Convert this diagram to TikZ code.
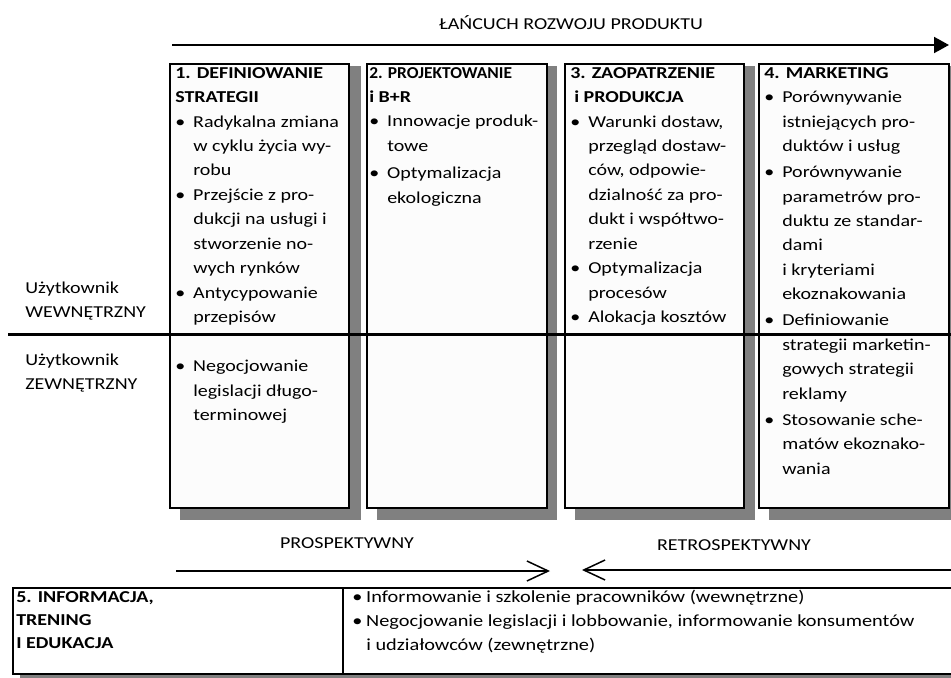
\documentclass[tikz,border=0pt]{standalone}
\usepackage{graphicx}
\usepackage{fontspec}
\setmainfont{Carlito}[FakeStretch=1.2]
\usetikzlibrary{arrows.meta}
\newlength\px
\setlength\px{0.75pt}
\definecolor{shadowgray}{RGB}{128,128,128}
\definecolor{paper}{RGB}{252,252,252}
% bullet with hanging indent, and the indent for continued lines
\newcommand\bul{\makebox[18\px][l]{•}}
\newcommand\cont{\hspace*{18\px}}
\newcommand\bodyfont{\fontsize{12.5}{18.375}\selectfont}
\tikzset{
  stagebox/.style={draw=black, line width=1.5\px, fill=paper},
  shadowbox/.style={fill=shadowgray, draw=none},
  body/.style={inner sep=0pt, anchor=base west, font=\bodyfont},
  label/.style={inner sep=0pt, anchor=base, font=\bodyfont},
  sidelabel/.style={inner sep=0pt, anchor=base west, font=\bodyfont, align=left},
  chain/.style={line width=2\px, -{Triangle[length=11.25pt,width=12pt]}},
  flow/.style={line width=1.5\px, -{Straight Barb[length=16pt,width=15pt]}},
  divider/.style={line width=3\px},
}
\begin{document}
\begin{tikzpicture}[x=0.75pt,y=-0.75pt]
\useasboundingbox (0,0) rectangle (951,678);

% chain header
\node[label] (title) at (571,30) {ŁAŃCUCH ROZWOJU PRODUKTU};
\coordinate (chainL) at (172,45);
\coordinate (chainR) at (949,45);
\draw[chain] (chainL) -- (chainR);

% shadows of the four stages
\fill[shadowbox] (180,66) rectangle (361,520);
\fill[shadowbox] (377,66) rectangle (557,520);
\fill[shadowbox] (575,66) rectangle (755,520);
\fill[shadowbox] (769,66) rectangle (960,520);

% the four stages
\draw[stagebox] (170,64) rectangle (349,508);
\draw[stagebox] (367,64) rectangle (547,508);
\draw[stagebox] (565,64) rectangle (744,508);
\draw[stagebox] (759,64) rectangle (949,508);

\node[body] (stage1) at (175,78) {\begin{minipage}[t]{200\px}\bodyfont\raggedright
\textbf{1. DEFINIOWANIE}\\
\textbf{STRATEGII}\\
\bul Radykalna zmiana\\
\cont w cyklu życia wy-\\
\cont robu\\
\bul Przejście z pro-\\
\cont dukcji na usługi i\\
\cont stworzenie no-\\
\cont wych rynków\\
\bul Antycypowanie\\
\cont przepisów\\[24.5\px]
\bul Negocjowanie\\
\cont legislacji długo-\\
\cont terminowej
\end{minipage}};

\node[body] (stage2) at (369,78) {\begin{minipage}[t]{200\px}\bodyfont\raggedright
\scalebox{0.87}[1]{\textbf{2. PROJEKTOWANIE}}\\
\textbf{i B+R}\\
\bul Innowacje produk-\\
\cont towe\\[3\px]
\bul Optymalizacja\\
\cont ekologiczna
\end{minipage}};

\node[body] (stage3) at (570,78) {\begin{minipage}[t]{200\px}\bodyfont\raggedright
\textbf{3. ZAOPATRZENIE}\\
\hspace*{4\px}\textbf{i PRODUKCJA}\\
\bul Warunki dostaw,\\
\cont przegląd dostaw-\\
\cont ców, odpowie-\\
\cont dzialność za pro-\\
\cont dukt i współtwo-\\
\cont rzenie\\
\bul Optymalizacja\\
\cont procesów\\
\bul Alokacja kosztów
\end{minipage}};

\node[body] (stage4) at (764,78) {\begin{minipage}[t]{200\px}\bodyfont\raggedright
\textbf{4. MARKETING}\\
\bul Porównywanie\\
\cont istniejących pro-\\
\cont duktów i usług\\[1.5\px]
\bul Porównywanie\\
\cont parametrów pro-\\
\cont duktu ze standar-\\
\cont dami\\
\cont i kryteriami\\
\cont ekoznakowania\\[1.5\px]
\bul Definiowanie\\
\cont strategii marketin-\\
\cont gowych strategii\\
\cont reklamy\\[1.5\px]
\bul Stosowanie sche-\\
\cont matów ekoznako-\\
\cont wania
\end{minipage}};

% internal / external users
\coordinate (splitL) at (8,334);
\coordinate (splitR) at (951,334);
\draw[divider] (splitL) -- (splitR);
\node[sidelabel] (internal) at (25,293) {\begin{minipage}[t]{150\px}\bodyfont
Użytkownik\\WEWNĘTRZNY\end{minipage}};
\node[sidelabel] (external) at (25,365) {\begin{minipage}[t]{150\px}\bodyfont
Użytkownik\\ZEWNĘTRZNY\end{minipage}};

% prospective and retrospective directions
\node[label] (prosp) at (347,548) {PROSPEKTYWNY};
\node[label] (retro) at (734,550) {RETROSPEKTYWNY};
\coordinate (prospL) at (176,571);
\coordinate (prospR) at (550,571);
\coordinate (retroR) at (951,570);
\coordinate (retroL) at (582,570);
\draw[flow] (prospL) -- (prospR);
\draw[flow] (retroR) -- (retroL);

% information, training and education
\fill[shadowbox] (20,592) rectangle (960,678);
\draw[stagebox, fill=white] (13,588) rectangle (956,674);
\coordinate (infoTop) at (343,588);
\coordinate (infoBot) at (343,674);
\draw[line width=1.5\px] (infoTop) -- (infoBot);
\node[body] (info) at (16,602) {\begin{minipage}[t]{300\px}\fontsize{12.5}{17.25}\selectfont\raggedright
\textbf{5. INFORMACJA,}\\
\textbf{TRENING}\\
\textbf{I EDUKACJA}
\end{minipage}};
\node[body] (infoitems) at (352,602) {\begin{minipage}[t]{600\px}\fontsize{12.7}{18}\selectfont\raggedright
\makebox[14\px][l]{•}Informowanie i szkolenie pracowników (wewnętrzne)\\
\makebox[14\px][l]{•}Negocjowanie legislacji i lobbowanie, informowanie konsumentów\\
\hspace*{14\px}i udziałowców (zewnętrzne)
\end{minipage}};
\end{tikzpicture}
\end{document}
